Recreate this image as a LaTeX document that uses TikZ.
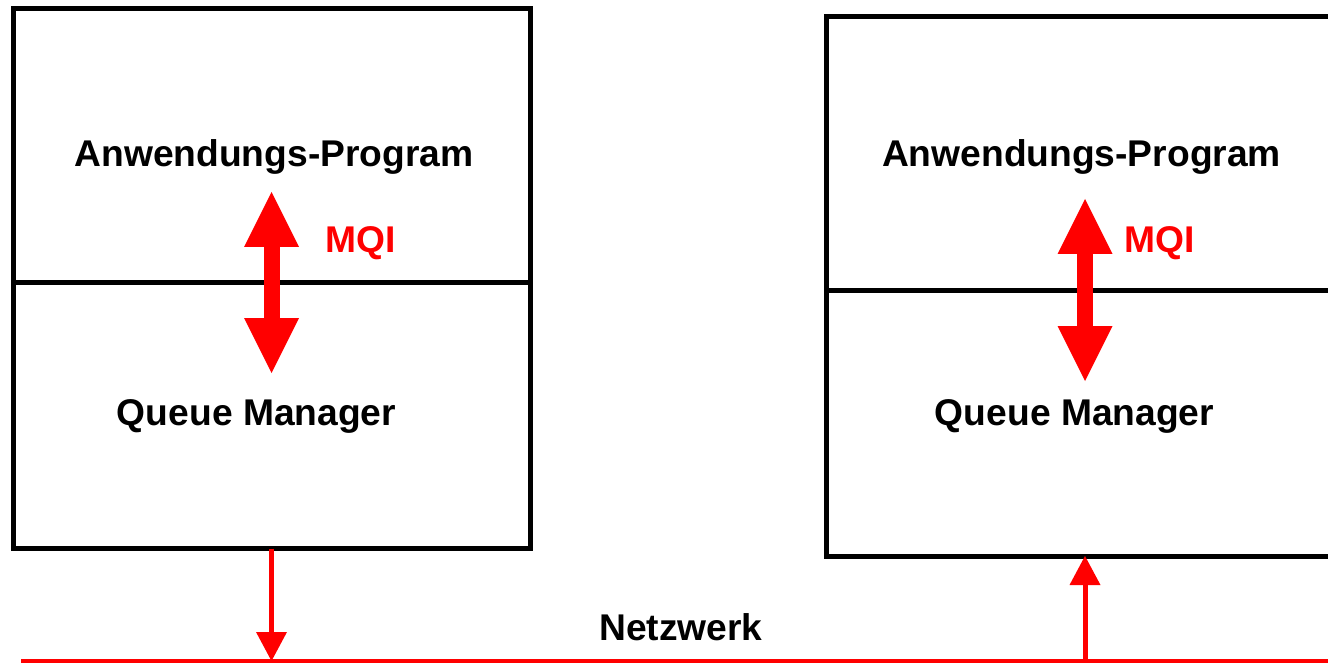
\documentclass[tikz,border=0pt]{standalone}
\usepackage{fontspec}
\setmainfont{Liberation Sans}
\usetikzlibrary{arrows.meta}
\tikzset{
  panel/.style={draw=black, line width=5pt, rectangle, outer sep=0pt, inner sep=0pt, minimum width=517pt},
  upperpart/.style={panel, minimum height=273.5pt},
  lowerpart/.style={panel, minimum height=266pt},
  label/.style={font=\fontsize{37.2}{44}\selectfont\bfseries, inner sep=0pt, anchor=base},
  mqilabel/.style={label, text=red},
  mqiarrow/.style={red, line width=16pt,
    {Triangle[width=55pt,length=55pt,line width=0pt]}-{Triangle[width=55pt,length=55pt,line width=0pt]}},
  linkarrow/.style={red, line width=5pt, -{Triangle[width=31pt,length=29pt,line width=0pt]}},
  netline/.style={red, line width=4pt},
}
\begin{document}
\begin{tikzpicture}[x=1pt, y=-1pt]
  \useasboundingbox (0,0) rectangle (1328,663);
  \clip (0,0) rectangle (1328,663);

  % left host: application program on top of its queue manager
  \node[upperpart] (app1) at (271.5,145.75) {};
  \node[lowerpart] (qm1)  at (271.5,415.5) {};
  % right host
  \node[upperpart] (app2) at (1084.5,153.25) {};
  \node[lowerpart] (qm2)  at (1084.5,423) {};

  \node[label] (t-app1) at (274,167) {Anwendungs-Program};
  \node[label] (t-qm1)  at (256.5,425) {Queue Manager};
  \node[label] (t-app2) at (1081.5,167) {Anwendungs-Program};
  \node[label] (t-qm2)  at (1074.5,425) {Queue Manager};
  \node[mqilabel] (mqi1) at (361,253) {MQI};
  \node[mqilabel] (mqi2) at (1160,253) {MQI};

  % MQI calls between program and queue manager
  \coordinate (m1a) at (271.5,192);
  \coordinate (m1b) at (271.5,373);
  \coordinate (m2a) at (1085,199);
  \coordinate (m2b) at (1085,381);
  \draw[mqiarrow] (m1a) -- (m1b);
  \draw[mqiarrow] (m2a) -- (m2b);

  % network
  \coordinate (netA) at (21,661);
  \coordinate (netB) at (1340,661);
  \draw[netline] (netA) -- (netB);
  \node[label] (t-net) at (681,640) {Netzwerk};

  \coordinate (out1) at (qm1.south |- netA);
  \draw[linkarrow] (qm1.south) -- (out1);
  \coordinate (in2top) at (1085,556);
  \coordinate (in2) at (in2top |- netA);
  \draw[linkarrow] (in2) -- (in2top);
\end{tikzpicture}
\end{document}
